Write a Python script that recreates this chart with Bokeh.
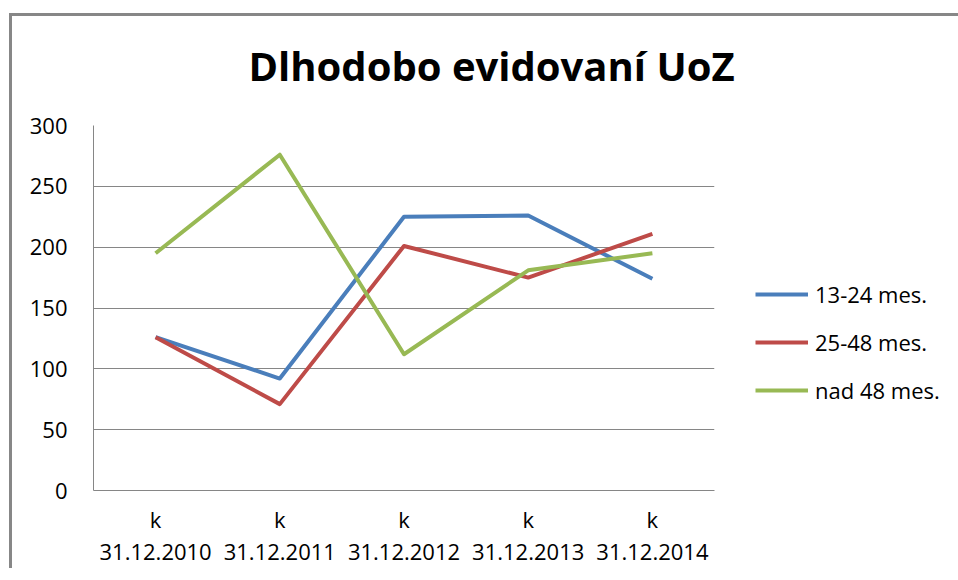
from bokeh.plotting import figure
from bokeh.models import Legend, LegendItem, FixedTicker, Title
from bokeh.embed import file_html
from bokeh.resources import INLINE

categories = ["k\n31.12.2010", "k\n31.12.2011", "k\n31.12.2012", "k\n31.12.2013", "k\n31.12.2014"]
series_names = ["13-24 mes.", "25-48 mes.", "nad 48 mes."]
s_13_24 = [126, 92, 225, 226, 174]
s_25_48 = [126, 71, 201, 175, 211]
s_nad_48 = [195, 276, 112, 181, 195]
y_ticks = [0, 50, 100, 150, 200, 250, 300]
colors = ["#4A7EBB", "#BE4B48", "#98B954"]

FONT = "Open Sans"
GRAY = "#868686"
EDGE = "#878787"

bg = (f"linear-gradient({EDGE},{EDGE}) 9px 13px / 3px 100% no-repeat, "
      f"linear-gradient({EDGE},{EDGE}) 9px 13px / 100% 3px no-repeat, white")

p = figure(x_range=categories, y_range=(0, 300), output_backend="svg",
           toolbar_location=None, frame_width=621, frame_height=365,
           min_border_left=93, min_border_right=228, min_border_top=125,
           min_border_bottom=74, background_fill_color="white",
           border_fill_alpha=0, outline_line_color=None,
           styles={"background": bg})

p.xgrid.grid_line_color = None
p.ygrid.grid_line_color = GRAY
p.ygrid.grid_line_width = 1
p.yaxis.ticker = FixedTicker(ticks=y_ticks)

for ax in (p.xaxis, p.yaxis):
    ax.axis_line_color = GRAY
    ax.axis_line_width = 1
    ax.major_tick_line_color = None
    ax.minor_tick_line_color = None
    ax.major_tick_out = 0
    ax.major_tick_in = 0
    ax.major_label_text_font = FONT
    ax.major_label_text_font_size = "22px"
    ax.major_label_text_color = "black"

p.yaxis.major_label_standoff = 26
p.xaxis.major_label_standoff = 13
p.xaxis.major_label_text_line_height = 1.07

renderers = []
for vals, c in zip([s_13_24, s_25_48, s_nad_48], colors):
    r = p.line(x=categories, y=vals, line_color=c, line_width=4, line_join="round")
    renderers.append(r)

legend = Legend(items=[LegendItem(label=n, renderers=[r]) for n, r in zip(series_names, renderers)],
                location=(41, 85), border_line_color=None, background_fill_alpha=0,
                glyph_width=53, glyph_height=30, label_height=30, label_standoff=7,
                spacing=18, padding=0, margin=0,
                label_text_font=FONT, label_text_font_size="22px",
                label_text_color="black")
p.add_layout(legend, "right")

title = Title(text="Dlhodobo evidovaní UoZ", align="left", offset=155,
              text_font=FONT, text_font_size="40px", text_font_style="bold",
              standoff=66, text_color="black")
p.add_layout(title, "above")

open("out.html", "w").write(file_html(p, INLINE))
